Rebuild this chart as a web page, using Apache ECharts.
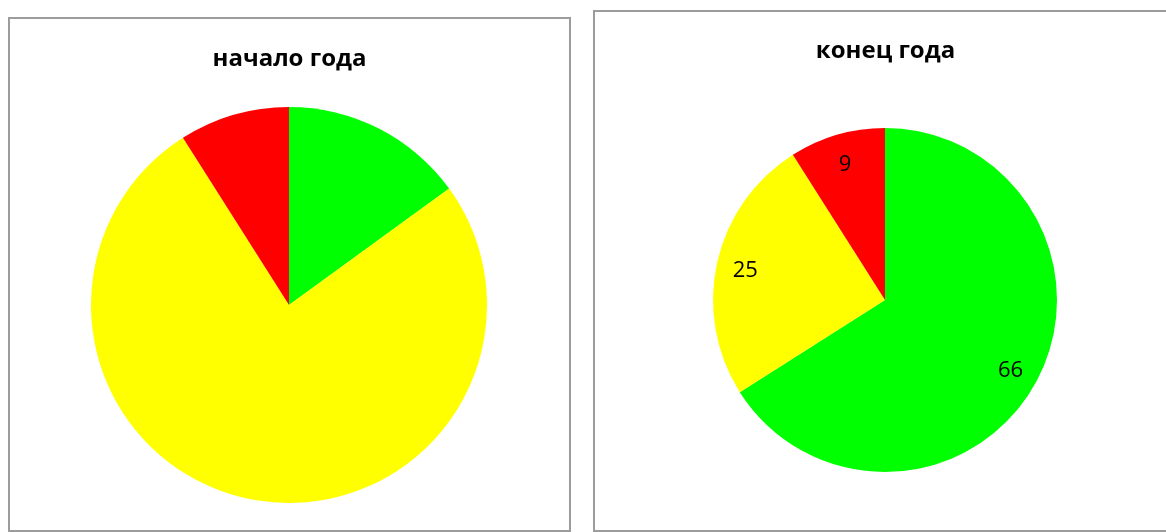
<!DOCTYPE html>
<html>
<head>
<meta charset="utf-8">
<script src="https://cdn.jsdelivr.net/npm/echarts@6/dist/echarts.min.js"></script>
<style>
    html, body { margin: 0; padding: 0; background: #fff; width: 1166px; height: 532px; overflow: hidden; }
    .box { position: absolute; box-sizing: border-box; border: 2px solid #9c9c9c; }
    #chart-start { left: 8px; top: 17px; width: 563px; height: 515px; }
    #chart-end { left: 593px; top: 10px; width: 585px; height: 522px; }
</style>
</head>
<body>
<div id="chart-start" class="box"></div>
<div id="chart-end" class="box"></div>
<script>
const categories = ['зелёная зона', 'жёлтая зона', 'красная зона'];
const startValues = [15, 76, 9];
const endValues = [66, 25, 9];
const sliceColors = ['#00ff00', '#ffff00', '#ff0000'];

const makeData = (values) => values.map((v, i) => ({
    value: v,
    name: categories[i],
    itemStyle: { color: sliceColors[i] }
}));

const initChart = (id, titleText, values, center, radius, titleTop, showLabels) => {
    var chartDom = document.getElementById(id);
    if (chartDom) {
        var myChart = echarts.init(chartDom);
        const series = [
            {
                type: 'pie',
                center: center,
                radius: [0, radius],
                startAngle: 90,
                clockwise: true,
                silent: true,
                animation: false,
                label: { show: false },
                labelLine: { show: false },
                itemStyle: { borderWidth: 0 },
                data: makeData(values)
            }
        ];
        if (showLabels) {
            // transparent ring on top, only to place the labels near the outer edge
            series.push({
                type: 'pie',
                center: center,
                radius: [radius * 0.63, radius],
                startAngle: 90,
                clockwise: true,
                silent: true,
                animation: false,
                itemStyle: { color: 'rgba(0,0,0,0)', borderWidth: 0 },
                label: {
                    show: true,
                    position: 'inside',
                    formatter: '{c}',
                    color: '#000',
                    fontSize: 22,
                    fontFamily: 'Open Sans',
                    offset: [0, 2]
                },
                labelLine: { show: false },
                data: values.map((v, i) => ({ value: v, name: categories[i] }))
            });
        }
        const option = {
            animation: false,
            title: {
                text: titleText,
                left: 'center',
                top: titleTop,
                padding: 0,
                textStyle: {
                    fontFamily: 'Open Sans',
                    fontWeight: 'bold',
                    fontSize: 24,
                    color: '#000'
                }
            },
            series: series
        };
        myChart.setOption(option);
    };
}

initChart('chart-start', 'начало года', startValues, [279, 286], 198, 28, false);
initChart('chart-end', 'конец года', endValues, [290, 288], 172, 27, true);
</script>
</body>
</html>
